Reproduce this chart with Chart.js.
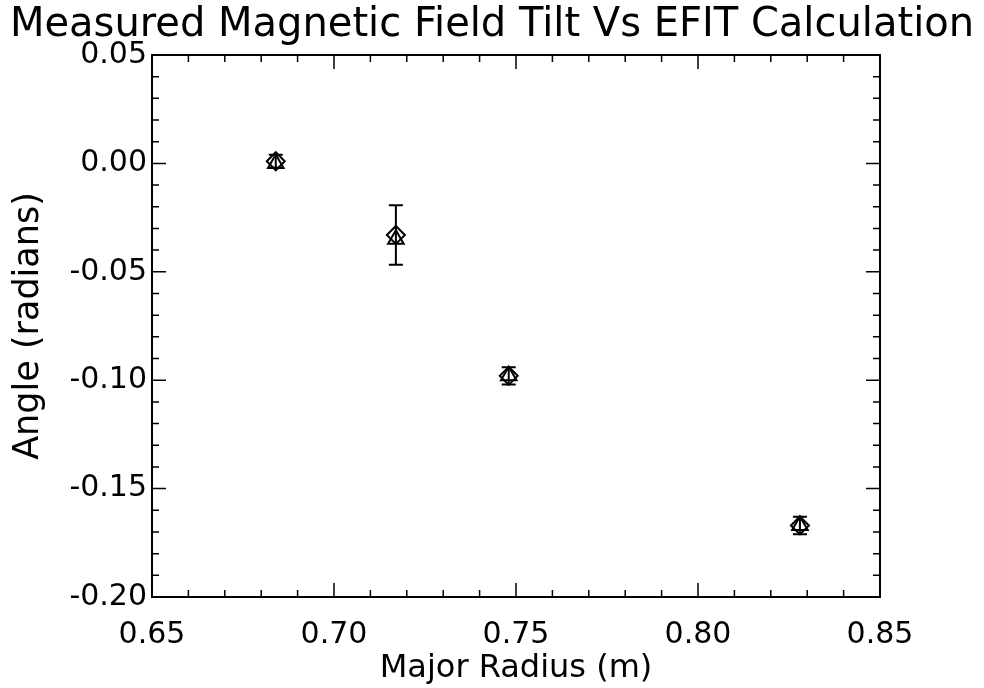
<!DOCTYPE html>
<html>
<head>
<meta charset="utf-8">
<script src="https://cdn.jsdelivr.net/npm/chart.js@4"></script>
<style>
  html, body { margin: 0; padding: 0; background: #fff; }
</style>
</head>
<body>
<canvas id="tiltChart" width="984" height="688"></canvas>
<script>
// major radius (m) of each probe position
const radius = [0.684, 0.717, 0.748, 0.828];
// measured field tilt (radians, diamonds) and its error bar half-width
const measured = [0.001, -0.033, -0.098, -0.167];
const measuredErr = [0.003, 0.0137, 0.004, 0.004];
// EFIT calculation (radians, triangles)
const efit = [0.000, -0.035, -0.098, -0.167];

const xTicks = [0.65, 0.70, 0.75, 0.80, 0.85];
const yTicks = [0.05, 0.00, -0.05, -0.10, -0.15, -0.20];
const minorStep = 0.01;

const FONT = "'DejaVu Sans', Arial, Helvetica, sans-serif";

// error bars on the measured series
const errorBars = {
  id: "errorBars",
  afterDatasetsDraw(chart) {
    const { ctx, scales: { x, y } } = chart;
    ctx.save();
    ctx.strokeStyle = "#000";
    ctx.lineWidth = 2;
    radius.forEach((r, i) => {
      const px = x.getPixelForValue(r);
      const top = y.getPixelForValue(measured[i] + measuredErr[i]);
      const bot = y.getPixelForValue(measured[i] - measuredErr[i]);
      ctx.beginPath();
      ctx.moveTo(px, top); ctx.lineTo(px, bot);
      ctx.moveTo(px - 7, top); ctx.lineTo(px + 7, top);
      ctx.moveTo(px - 7, bot); ctx.lineTo(px + 7, bot);
      ctx.stroke();
    });
    ctx.restore();
  }
};

// box frame with inward ticks on all four sides
const frameTicks = {
  id: "frameTicks",
  afterDraw(chart) {
    const { ctx, chartArea: a, scales: { x, y } } = chart;
    ctx.save();
    ctx.strokeStyle = "#000";
    ctx.lineWidth = 2;
    ctx.strokeRect(a.left, a.top, a.right - a.left, a.bottom - a.top);
    ctx.lineWidth = 1.5;
    const isMajor = (v, list) => list.some(t => Math.abs(t - v) < 1e-6);
    ctx.beginPath();
    for (let v = x.min; v <= x.max + 1e-9; v += minorStep) {
      const px = x.getPixelForValue(v);
      const len = isMajor(v, xTicks) ? 14 : 7;
      ctx.moveTo(px, a.bottom); ctx.lineTo(px, a.bottom - len);
      ctx.moveTo(px, a.top); ctx.lineTo(px, a.top + len);
    }
    for (let v = y.min; v <= y.max + 1e-9; v += minorStep) {
      const py = y.getPixelForValue(v);
      const len = isMajor(v, yTicks) ? 14 : 7;
      ctx.moveTo(a.left, py); ctx.lineTo(a.left + len, py);
      ctx.moveTo(a.right, py); ctx.lineTo(a.right - len, py);
    }
    ctx.stroke();
    ctx.restore();
  }
};

new Chart(document.getElementById("tiltChart"), {
  type: "scatter",
  data: {
    datasets: [
      {
        label: "Measured",
        data: radius.map((r, i) => ({ x: r, y: measured[i] })),
        pointStyle: "rectRot",
        pointRadius: 9,
        pointBorderWidth: 2,
        borderColor: "#000",
        backgroundColor: "rgba(0,0,0,0)"
      },
      {
        label: "EFIT",
        data: radius.map((r, i) => ({ x: r, y: efit[i] })),
        pointStyle: "triangle",
        pointRadius: 9,
        pointBorderWidth: 2,
        borderColor: "#000",
        backgroundColor: "rgba(0,0,0,0)"
      }
    ]
  },
  options: {
    responsive: false,
    devicePixelRatio: 1,
    animation: false,
    layout: { padding: 0 },
    plugins: {
      legend: { display: false },
      tooltip: { enabled: false },
      title: {
        display: true,
        text: "Measured Magnetic Field Tilt Vs EFIT Calculation",
        color: "#000",
        font: { family: FONT, size: 40, weight: "normal" },
        padding: { top: 2, bottom: 5 }
      }
    },
    scales: {
      x: {
        type: "linear",
        min: 0.65,
        max: 0.85,
        afterBuildTicks: s => { s.ticks = xTicks.map(v => ({ value: v })); },
        afterFit: s => { s.height = 91; },
        grid: { display: false, drawTicks: false },
        border: { display: false },
        ticks: {
          color: "#000",
          padding: 20,
          maxRotation: 0,
          font: { family: FONT, size: 30 },
          callback: v => v.toFixed(2)
        },
        title: {
          display: true,
          text: "Major Radius (m)",
          color: "#000",
          font: { family: FONT, size: 32 },
          padding: { top: 0, bottom: 0 }
        }
      },
      y: {
        type: "linear",
        min: -0.20,
        max: 0.05,
        afterBuildTicks: s => { s.ticks = yTicks.map(v => ({ value: v })); },
        afterFit: s => { s.width = 152; },
        grid: { display: false, drawTicks: false },
        border: { display: false },
        ticks: {
          color: "#000",
          padding: 5,
          font: { family: FONT, size: 30 },
          callback: v => v.toFixed(2)
        },
        title: {
          display: true,
          text: "Angle (radians)",
          color: "#000",
          font: { family: FONT, size: 35 },
          padding: { top: 8, bottom: 0 }
        }
      },
      // empty right-hand margin so the plot box ends where the reference does
      right: {
        type: "linear",
        position: "right",
        min: -0.20,
        max: 0.05,
        afterFit: s => { s.width = 104; },
        grid: { display: false, drawTicks: false },
        border: { display: false },
        ticks: { display: false }
      }
    }
  },
  plugins: [errorBars, frameTicks]
});
</script>
</body>
</html>
